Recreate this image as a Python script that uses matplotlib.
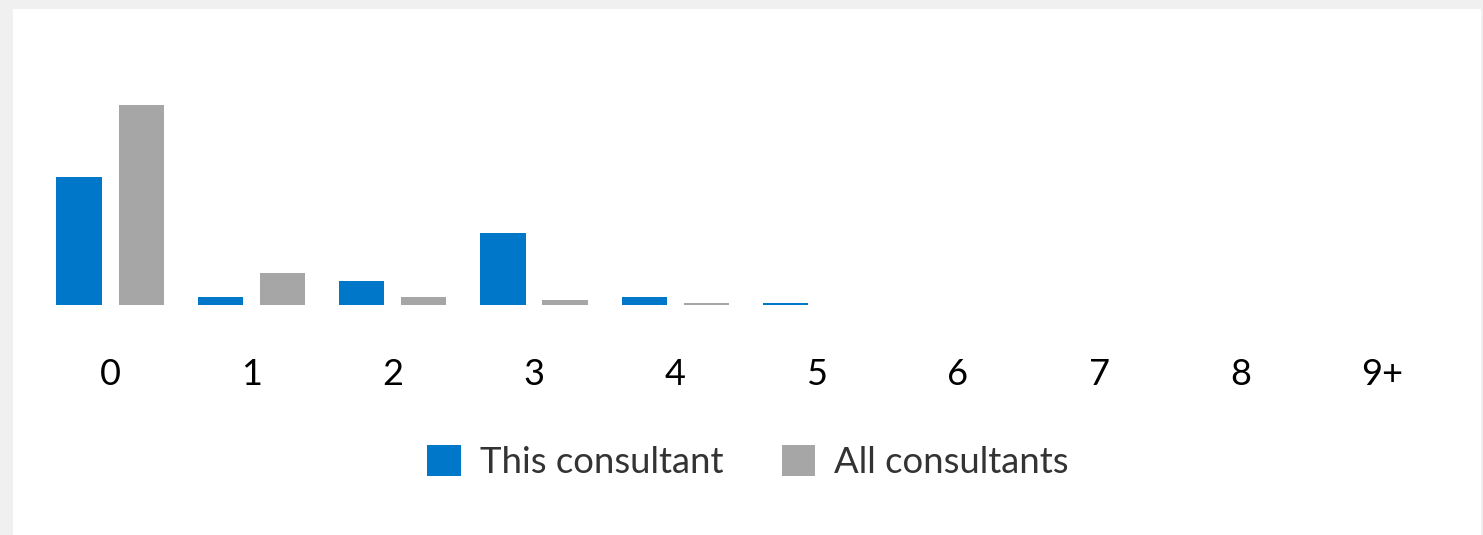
import matplotlib

matplotlib.use("Agg")
import matplotlib.pyplot as plt
import numpy as np
from matplotlib.patches import Rectangle

categories = ["0", "1", "2", "3", "4", "5", "6", "7", "8", "9+"]
this_consultant = [64, 4, 12, 36, 4, 1.2, 0, 0, 0, 0]
all_consultants = [100, 16, 4, 2.5, 1.2, 0, 0, 0, 0, 0]

BLUE = "#0077c8"
GRAY = "#a6a6a6"

plt.rcParams["font.family"] = ["Lato", "DejaVu Sans"]

fig = plt.figure(figsize=(14.83, 5.35), dpi=100)
fig.patch.set_facecolor("#f0f0f0")
# white card behind the chart
fig.patches.append(Rectangle((13 / 1483, 0), 1468 / 1483, 1 - 9 / 535,
                             transform=fig.transFigure, facecolor="white",
                             edgecolor="none", zorder=-5))

ax = fig.add_axes([39.4 / 1483, 230 / 535, 1413.2 / 1483, 200 / 535])
ax.set_facecolor("none")
ax.set_zorder(2)

x = np.arange(len(categories))
w = 0.32
ax.bar(x - 0.22, this_consultant, width=w, color=BLUE, label="This consultant")
ax.bar(x + 0.22, all_consultants, width=w, color=GRAY, label="All consultants")

ax.set_xlim(-0.5, len(categories) - 0.5)
ax.set_ylim(0, 100)
ax.set_xticks(x)
ax.set_xticklabels(categories, fontsize=26, color="black")
ax.tick_params(axis="x", length=0, pad=38)
ax.set_yticks([])
for s in ax.spines.values():
    s.set_visible(False)

leg = fig.legend(loc="center", bbox_to_anchor=(748 / 1483, 1 - 462 / 535), ncol=2,
                 frameon=False, fontsize=26.3, labelcolor="#333333",
                 handlelength=0.92, handleheight=0.92, handletextpad=0.52,
                 columnspacing=1.6, borderaxespad=0, borderpad=0)
leg.set_zorder(3)

fig.savefig("out.png", dpi=100, facecolor=fig.get_facecolor())
